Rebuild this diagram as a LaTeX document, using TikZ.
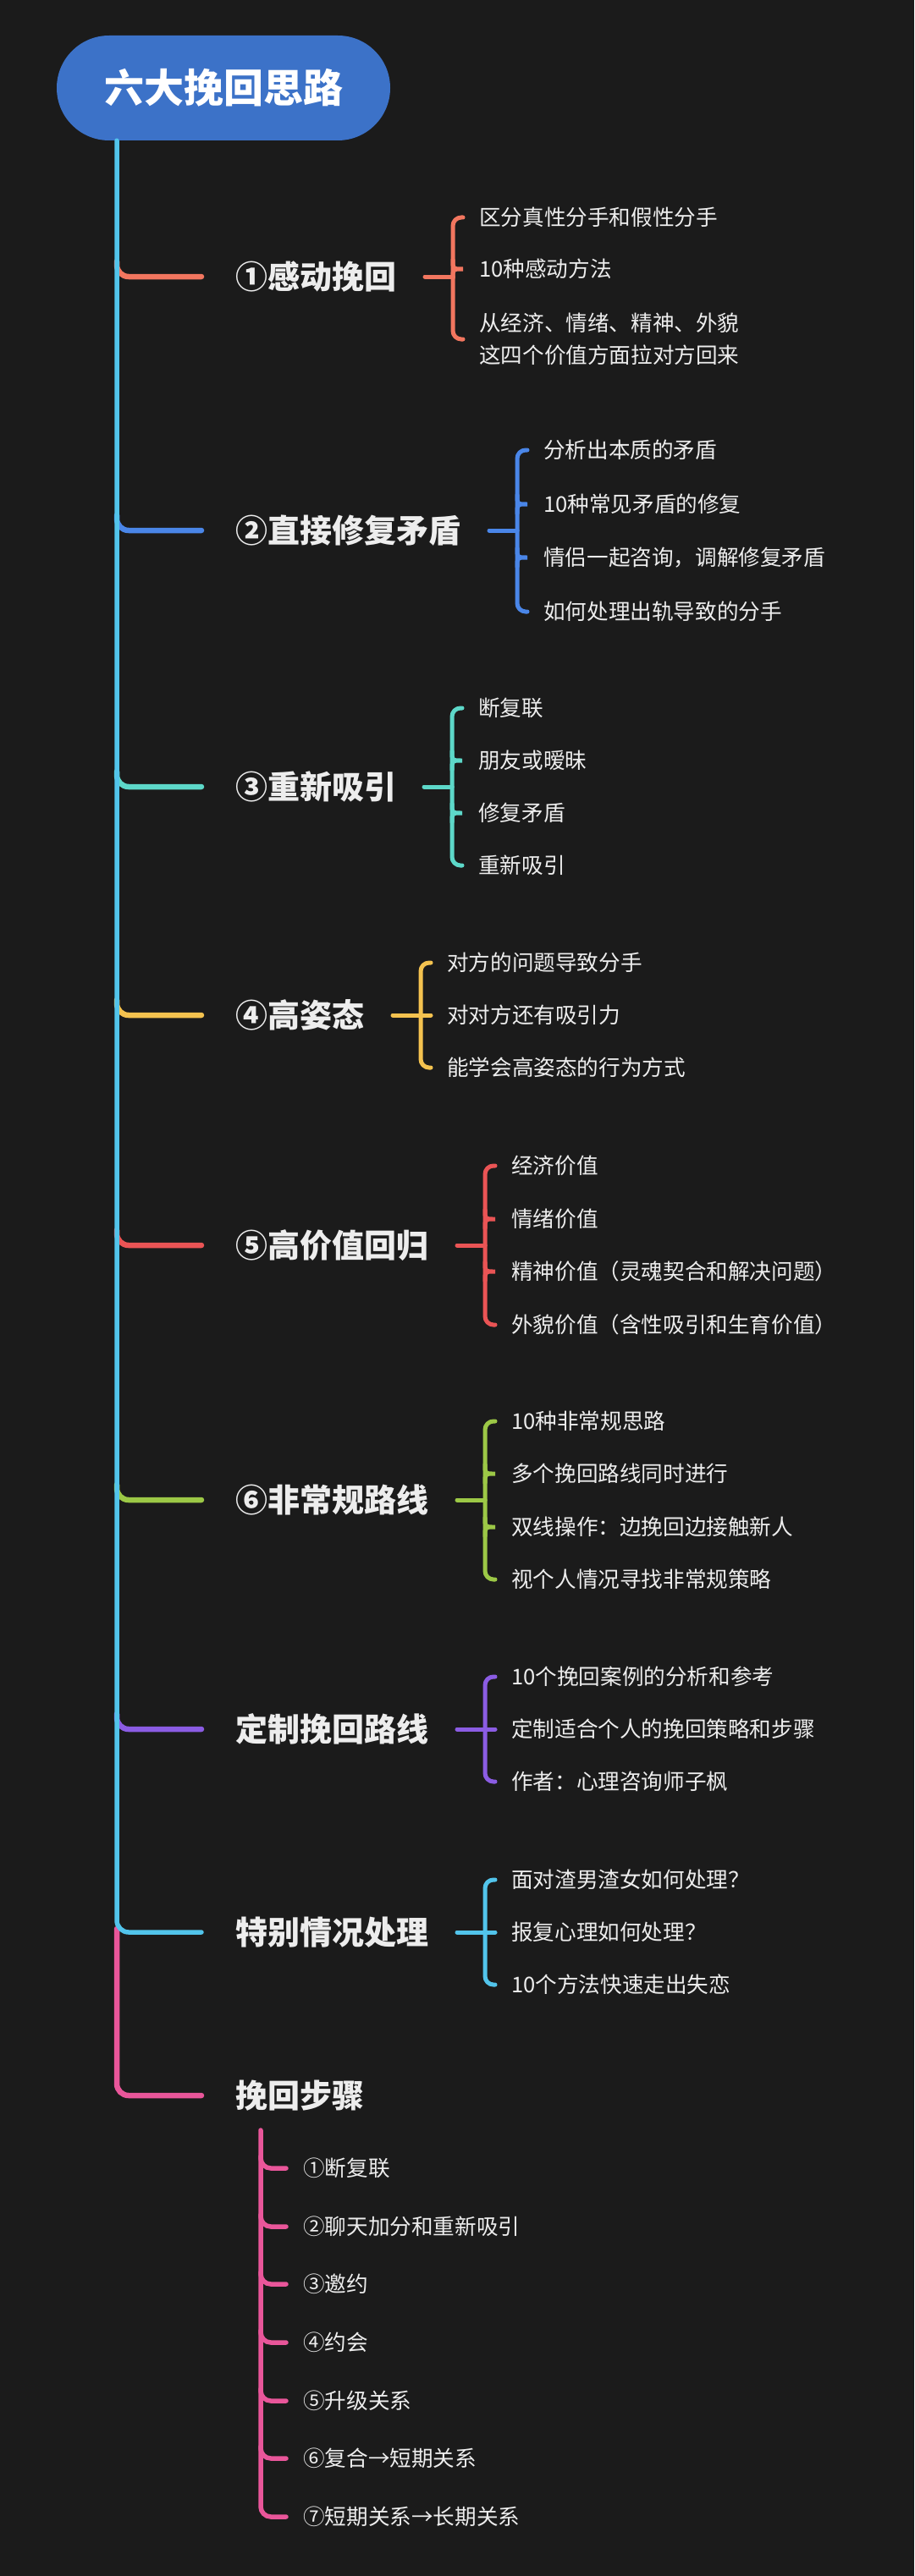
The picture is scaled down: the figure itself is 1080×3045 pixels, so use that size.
\documentclass[tikz,border=0pt]{standalone}
\usepackage{fontspec}
\setmainfont{Noto Sans CJK SC}
\usetikzlibrary{calc}
\definecolor{bg}{HTML}{1B1B1B}
\definecolor{pillC}{HTML}{3C72C8}
\definecolor{trunkC}{HTML}{52C4EB}
\definecolor{cA}{HTML}{F2765F}
\definecolor{cB}{HTML}{4A86E8}
\definecolor{cC}{HTML}{5DD8C9}
\definecolor{cD}{HTML}{F4C24F}
\definecolor{cE}{HTML}{EA5455}
\definecolor{cF}{HTML}{9CC846}
\definecolor{cG}{HTML}{8B5CE3}
\definecolor{cH}{HTML}{52C4EB}
\definecolor{cI}{HTML}{E9569A}
\definecolor{txt}{HTML}{EDEDED}
\tikzset{
  lbl/.style={anchor=west, inner sep=0pt, text=txt, font=\fontsize{38}{45}\selectfont\bfseries, text height=33.4pt, text depth=4.6pt},
  leaf/.style={anchor=west, inner sep=0pt, text=txt, font=\fontsize{25.6}{38}\selectfont, text height=22.5pt, text depth=3.1pt},
  leaftwo/.style={anchor=west, inner sep=0pt, text=txt, font=\fontsize{25.6}{38}\selectfont, align=left},
  trunkline/.style={line width=5.5pt, line cap=round, rounded corners=14pt},
  brline/.style={line width=6.5pt, line cap=round, rounded corners=14pt},
  bkline/.style={line width=5pt, line cap=round, rounded corners=10pt},
  subline/.style={line width=5.5pt, line cap=round, rounded corners=12pt},
}
% bracket: color, bracket coord, parent, first child, last child
\newcommand\bkt[5]{%
  \draw[bkline,#1] ($(#2|-#3.west)+(-33,0)$) -- (#2|-#3.west);
  \draw[bkline,#1] (#2|-#3.west) |- ($(#2|-#4.west)+(12,0)$);
  \draw[bkline,#1] (#2|-#3.west) |- ($(#2|-#5.west)+(12,0)$);
}
\newcommand\bkmid[3]{%
  \draw[line width=5pt,line cap=round,#1] ($(#2|-#3.west)+(0,-11)$) .. controls (#2|-#3.west) .. ($(#2|-#3.west)+(12,0)$) .. controls (#2|-#3.west) .. ($(#2|-#3.west)+(0,11)$);
}
\newcommand\bkstr[3]{%
  \draw[bkline,#1] (#2|-#3.west) -- ($(#2|-#3.west)+(12,0)$);
}
\begin{document}
\begin{tikzpicture}[x=1pt,y=-1pt]
\fill[bg] (0,0) rectangle (1080,3045);
\useasboundingbox (0,0) rectangle (1080,3045);

% title
\node[fill=pillC, rounded corners=61.9pt, minimum width=394pt, minimum height=124pt, inner sep=0pt, text=white, font=\fontsize{47}{56}\selectfont\bfseries, text height=41.4pt, text depth=5.6pt] (title) at (264,104) {六大挽回思路};
\coordinate (trunk) at ([xshift=-126pt]title.south);

% branch labels
\node[lbl] (b1) at (278,327) {①感动挽回};
\node[lbl] (b2) at (278,627) {②直接修复矛盾};
\node[lbl] (b3) at (278,930) {③重新吸引};
\node[lbl] (b4) at (278,1200) {④高姿态};
\node[lbl] (b5) at (278,1472) {⑤高价值回归};
\node[lbl] (b6) at (278,1773) {⑥非常规路线};
\node[lbl] (b7) at (278,2044) {定制挽回路线};
\node[lbl] (b8) at (278,2284) {特别情况处理};
\node[lbl] (b9) at (278,2477) {挽回步骤};

% branch 1
\node[leaf] (a1) at (566,257) {区分真性分手和假性分手};
\node[leaf] (a2) at (566,318) {10种感动方法};
\node[leaftwo] (a3) at (566,401) {从经济、情绪、精神、外貌\\这四个价值方面拉对方回来};
% branch 2
\node[leaf] (d1) at (642,532) {分析出本质的矛盾};
\node[leaf] (d2) at (642,596) {10种常见矛盾的修复};
\node[leaf] (d3) at (642,659) {情侣一起咨询，调解修复矛盾};
\node[leaf] (d4) at (642,723) {如何处理出轨导致的分手};
% branch 3
\node[leaf] (e1) at (565,837) {断复联};
\node[leaf] (e2) at (565,899) {朋友或暧昧};
\node[leaf] (e3) at (565,961) {修复矛盾};
\node[leaf] (e4) at (565,1023) {重新吸引};
% branch 4
\node[leaf] (f1) at (528,1138) {对方的问题导致分手};
\node[leaf] (f2) at (528,1200) {对对方还有吸引力};
\node[leaf] (f3) at (528,1262) {能学会高姿态的行为方式};
% branch 5
\node[leaf] (g1) at (604,1378) {经济价值};
\node[leaf] (g2) at (604,1441) {情绪价值};
\node[leaf] (g3) at (604,1503) {精神价值（灵魂契合和解决问题）};
\node[leaf] (g4) at (604,1566) {外貌价值（含性吸引和生育价值）};
% branch 6
\node[leaf] (h1) at (604,1680) {10种非常规思路};
\node[leaf] (h2) at (604,1742) {多个挽回路线同时进行};
\node[leaf] (h3) at (604,1805) {双线操作：边挽回边接触新人};
\node[leaf] (h4) at (604,1867) {视个人情况寻找非常规策略};
% branch 7
\node[leaf] (i1) at (604,1982) {10个挽回案例的分析和参考};
\node[leaf] (i2) at (604,2044) {定制适合个人的挽回策略和步骤};
\node[leaf] (i3) at (604,2106) {作者：心理咨询师子枫};
% branch 8
\node[leaf] (j1) at (604,2222) {面对渣男渣女如何处理？};
\node[leaf] (j2) at (604,2284) {报复心理如何处理？};
\node[leaf] (j3) at (604,2346) {10个方法快速走出失恋};
% branch 9 steps
\node[leaf] (s1) at (358,2563) {①断复联};
\node[leaf] (s2) at (358,2632) {②聊天加分和重新吸引};
\node[leaf] (s3) at (358,2700) {③邀约};
\node[leaf] (s4) at (358,2769) {④约会};
\node[leaf] (s5) at (358,2838) {⑤升级关系};
\node[leaf] (s6) at (358,2906) {⑥复合→短期关系};
\node[leaf] (s7) at (358,2975) {⑦短期关系→长期关系};

% branches from trunk
\draw[brline,cA] ($(trunk|-b1.west)+(0,-18)$) |- ($(b1.west)+(-40,0)$);
\draw[brline,cB] ($(trunk|-b2.west)+(0,-18)$) |- ($(b2.west)+(-40,0)$);
\draw[brline,cC] ($(trunk|-b3.west)+(0,-18)$) |- ($(b3.west)+(-40,0)$);
\draw[brline,cD] ($(trunk|-b4.west)+(0,-18)$) |- ($(b4.west)+(-40,0)$);
\draw[brline,cE] ($(trunk|-b5.west)+(0,-18)$) |- ($(b5.west)+(-40,0)$);
\draw[brline,cF] ($(trunk|-b6.west)+(0,-18)$) |- ($(b6.west)+(-40,0)$);
\draw[brline,cG] ($(trunk|-b7.west)+(0,-18)$) |- ($(b7.west)+(-40,0)$);
\draw[brline,cI] ($(trunk|-b8.west)+(0,-4)$) |- ($(b9.west)+(-40,0)$);
\draw[trunkline,trunkC] (trunk) |- ($(b8.west)+(-40,0)$);

% brackets
\coordinate (k1) at (535,0);
\bkt{cA}{k1}{b1}{a1}{a3}
\bkmid{cA}{k1}{a2}
\coordinate (k2) at (611,0);
\bkt{cB}{k2}{b2}{d1}{d4}
\bkmid{cB}{k2}{d2}
\bkmid{cB}{k2}{d3}
\coordinate (k3) at (534,0);
\bkt{cC}{k3}{b3}{e1}{e4}
\bkmid{cC}{k3}{e2}
\bkmid{cC}{k3}{e3}
\coordinate (k4) at (497,0);
\bkt{cD}{k4}{b4}{f1}{f3}
\bkstr{cD}{k4}{f2}
\coordinate (k5) at (573,0);
\bkt{cE}{k5}{b5}{g1}{g4}
\bkmid{cE}{k5}{g2}
\bkmid{cE}{k5}{g3}
\coordinate (k6) at (573,0);
\bkt{cF}{k6}{b6}{h1}{h4}
\bkmid{cF}{k6}{h2}
\bkmid{cF}{k6}{h3}
\coordinate (k7) at (573,0);
\bkt{cG}{k7}{b7}{i1}{i3}
\bkstr{cG}{k7}{i2}
\coordinate (k8) at (573,0);
\bkt{cH}{k8}{b8}{j1}{j3}
\bkstr{cH}{k8}{j2}

% steps sub-trunk
\coordinate (st) at (308,2518);
\draw[subline,cI] ($(st|-s1.west)+(0,-14)$) |- ($(s1.west)+(-20,0)$);
\draw[subline,cI] ($(st|-s2.west)+(0,-14)$) |- ($(s2.west)+(-20,0)$);
\draw[subline,cI] ($(st|-s3.west)+(0,-14)$) |- ($(s3.west)+(-20,0)$);
\draw[subline,cI] ($(st|-s4.west)+(0,-14)$) |- ($(s4.west)+(-20,0)$);
\draw[subline,cI] ($(st|-s5.west)+(0,-14)$) |- ($(s5.west)+(-20,0)$);
\draw[subline,cI] ($(st|-s6.west)+(0,-14)$) |- ($(s6.west)+(-20,0)$);
\draw[subline,cI] (st) |- ($(s7.west)+(-20,0)$);
\end{tikzpicture}
\end{document}
